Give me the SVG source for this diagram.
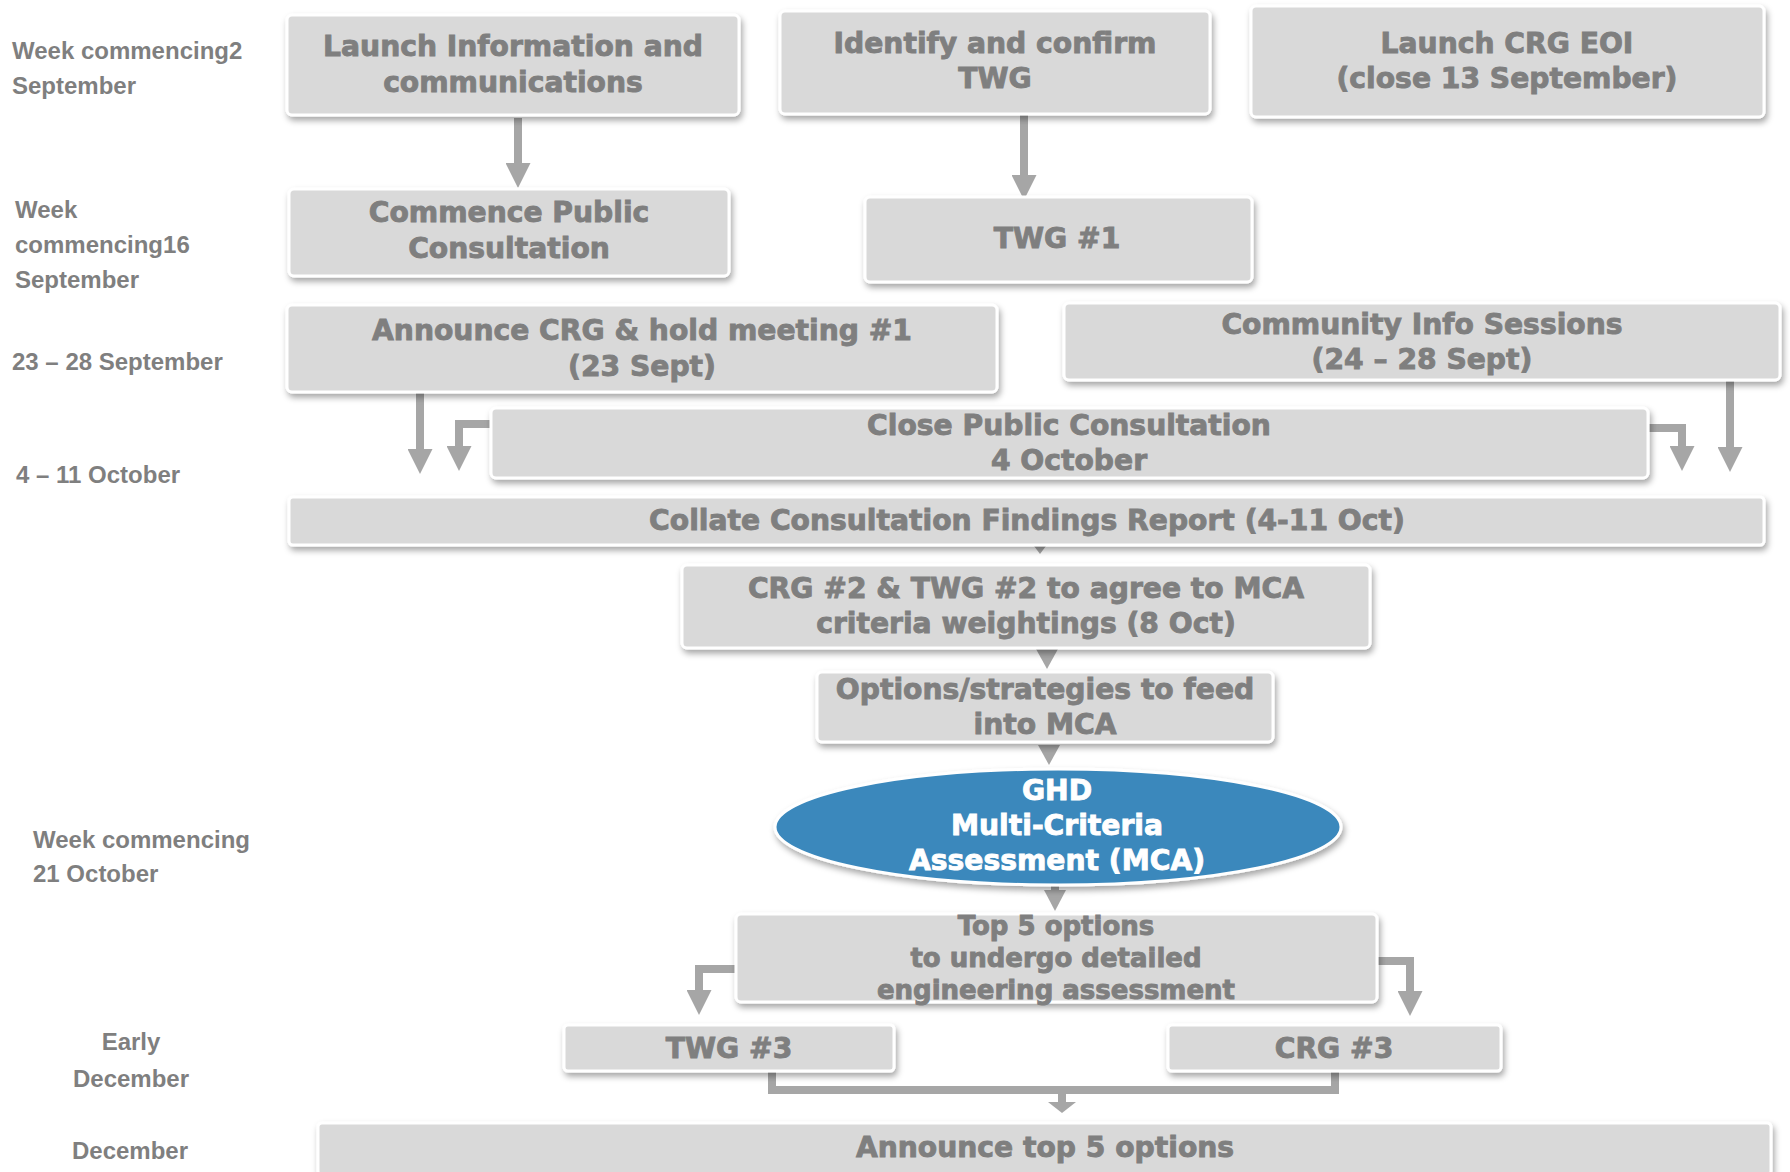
<svg xmlns="http://www.w3.org/2000/svg" width="1790" height="1172" viewBox="0 0 1790 1172">
<style>
.box{fill:#d9d9d9;stroke:#ffffff;stroke-width:3;filter:url(#sh)}
.t{font-family:"DejaVu Sans",Verdana,sans-serif;font-weight:bold;font-size:28.2px;fill:#7f7f7f;stroke:#7f7f7f;stroke-width:0.9;text-anchor:middle}
.ts{font-size:26px}
.tw{fill:#ffffff;stroke:#ffffff}
.lab{font-family:"Liberation Sans",Arial,sans-serif;font-weight:bold;font-size:24px;fill:#7f7f7f}
.c{fill:none;stroke:#a6a6a6;stroke-width:8;stroke-linejoin:miter}
.ah{fill:#a6a6a6}
</style>
<defs>
<filter id="sh" x="-5%" y="-20%" width="110%" height="150%">
<feDropShadow dx="2" dy="4" stdDeviation="3" flood-color="#000" flood-opacity="0.35"/>
</filter>
<marker id="arr" viewBox="0 0 25 25" refX="0" refY="12.5" markerWidth="25" markerHeight="25" markerUnits="userSpaceOnUse" orient="auto">
<path d="M0,0 L25,12.5 L0,25 z" fill="#a6a6a6"/>
</marker>
</defs>
<rect width="1790" height="1172" fill="#ffffff"/>

<g id="labels">
<text class="lab" x="12" y="59">Week commencing2</text>
<text class="lab" x="12" y="94">September</text>
<text class="lab" x="15" y="218">Week</text>
<text class="lab" x="15" y="253">commencing16</text>
<text class="lab" x="15" y="288">September</text>
<text class="lab" x="12" y="370">23 – 28 September</text>
<text class="lab" x="16" y="483">4 – 11 October</text>
<text class="lab" x="33" y="848">Week commencing</text>
<text class="lab" x="33" y="882">21 October</text>
<text class="lab" x="131" y="1050" text-anchor="middle">Early</text>
<text class="lab" x="131" y="1087" text-anchor="middle">December</text>
<text class="lab" x="130" y="1159" text-anchor="middle">December</text>
</g>

<g id="connectors">
<path class="c" d="M518,118 V163" marker-end="url(#arr)"/>
<path class="c" d="M1024,115 V175" marker-end="url(#arr)"/>
<path class="c" d="M420,392 V449" marker-end="url(#arr)"/>
<path class="c" d="M491,424 H459 V446" marker-end="url(#arr)"/>
<path class="c" d="M1648,428 H1682 V446" marker-end="url(#arr)"/>
<path class="c" d="M1730,372 V447" marker-end="url(#arr)"/>
<polygon class="ah" points="1034,546 1046,546 1040,554"/>
<polygon class="ah" points="1036,649 1058,649 1047,669"/>
<polygon class="ah" points="1038,745 1060,745 1049,765"/>
<path class="c" d="M1055,884 V890"/>
<polygon class="ah" points="1044,890 1066,890 1055,911"/>
<path class="c" d="M736,969 H699 V990" marker-end="url(#arr)"/>
<path class="c" d="M1377,961 H1410 V991" marker-end="url(#arr)"/>
<path class="c" d="M772,1071 V1090 H1335 V1071"/>
<path class="c" d="M1062,1090 V1102"/>
<polygon class="ah" points="1048,1102 1076,1102 1062,1113"/>
</g>

<g id="n-launch-info">
<rect class="box" x="287" y="15" width="452" height="100" rx="5"/>
<text class="t" x="513" y="56">Launch Information and</text>
<text class="t" x="513" y="92">communications</text>
</g>
<g id="n-identify-twg">
<rect class="box" x="780" y="11" width="430" height="103" rx="5"/>
<text class="t" x="995" y="53">Identify and confirm</text>
<text class="t" x="995" y="88">TWG</text>
</g>
<g id="n-launch-crg">
<rect class="box" x="1251" y="6" width="513" height="111" rx="5"/>
<text class="t" x="1507" y="53">Launch CRG EOI</text>
<text class="t" x="1507" y="88">(close 13 September)</text>
</g>
<g id="n-commence">
<rect class="box" x="289" y="189" width="440" height="87" rx="5"/>
<text class="t" x="509" y="222">Commence Public</text>
<text class="t" x="509" y="258">Consultation</text>
</g>
<g id="n-twg1">
<rect class="box" x="865" y="197" width="387" height="85" rx="5"/>
<text class="t" x="1057" y="248">TWG #1</text>
</g>
<g id="n-announce-crg">
<rect class="box" x="287" y="305" width="710" height="87" rx="5"/>
<text class="t" x="642" y="340">Announce CRG &amp; hold meeting #1</text>
<text class="t" x="642" y="376">(23 Sept)</text>
</g>
<g id="n-community">
<rect class="box" x="1064" y="303" width="716" height="77" rx="5"/>
<text class="t" x="1422" y="334">Community Info Sessions</text>
<text class="t" x="1422" y="369">(24 – 28 Sept)</text>
</g>
<g id="n-close">
<rect class="box" x="491" y="408" width="1157" height="70" rx="5"/>
<text class="t" x="1069" y="435">Close Public Consultation</text>
<text class="t" x="1069" y="470">4 October</text>
</g>
<g id="n-collate">
<rect class="box" x="289" y="497" width="1475" height="48" rx="4"/>
<text class="t" x="1027" y="530">Collate Consultation Findings Report (4-11 Oct)</text>
</g>
<g id="n-crg2">
<rect class="box" x="682" y="565" width="688" height="83" rx="5"/>
<text class="t" x="1026" y="598">CRG #2 &amp; TWG #2 to agree to MCA</text>
<text class="t" x="1026" y="633">criteria weightings (8 Oct)</text>
</g>
<g id="n-options">
<rect class="box" x="817" y="672" width="456" height="70" rx="5"/>
<text class="t" x="1045" y="699">Options/strategies to feed</text>
<text class="t" x="1045" y="734">into MCA</text>
</g>
<g id="n-mca">
<ellipse cx="1058" cy="827" rx="283" ry="58" fill="#3b88bc" stroke="#ffffff" stroke-width="3" filter="url(#sh)"/>
<text class="t tw" x="1057" y="800">GHD</text>
<text class="t tw" x="1057" y="835">Multi-Criteria</text>
<text class="t tw" x="1057" y="870">Assessment (MCA)</text>
</g>
<g id="n-top5">
<rect class="box" x="736" y="914" width="641" height="88" rx="5"/>
<text class="t ts" x="1056" y="935">Top 5 options</text>
<text class="t ts" x="1056" y="967">to undergo detailed</text>
<text class="t ts" x="1056" y="999">engineering assessment</text>
</g>
<g id="n-twg3">
<rect class="box" x="564" y="1025" width="330" height="46" rx="4"/>
<text class="t" x="729" y="1058">TWG #3</text>
</g>
<g id="n-crg3">
<rect class="box" x="1168" y="1025" width="333" height="46" rx="4"/>
<text class="t" x="1334" y="1058">CRG #3</text>
</g>
<g id="n-announce-top5">
<rect class="box" x="318" y="1123" width="1453" height="52" rx="4"/>
<text class="t" x="1045" y="1157">Announce top 5 options</text>
</g>
</svg>
